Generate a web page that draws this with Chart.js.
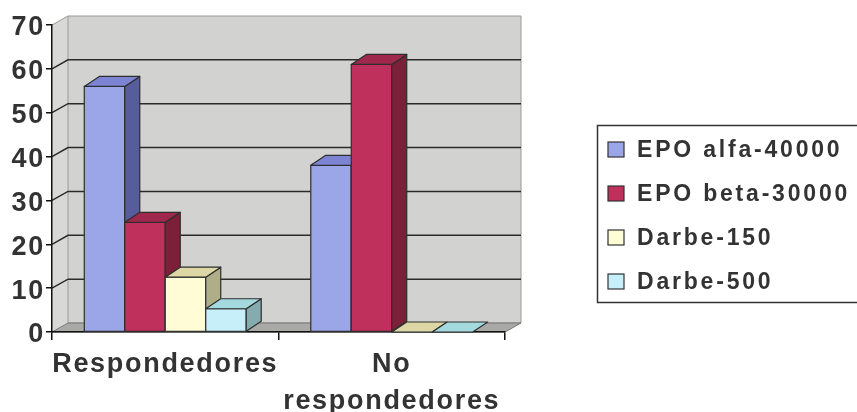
<!DOCTYPE html>
<html>
<head>
<meta charset="utf-8">
<script src="https://cdn.jsdelivr.net/npm/chart.js@4.4.1/dist/chart.umd.min.js"></script>
<style>
  html, body { margin: 0; padding: 0; background: #fff; }
  #chart { display: block; }
</style>
</head>
<body>
<canvas id="chart" width="857" height="412"></canvas>
<script>
const categories = ['Respondedores', ['No', 'respondedores']];
const seriesNames = ['EPO alfa-40000', 'EPO beta-30000', 'Darbe-150', 'Darbe-500'];
const epoAlfa = [56, 38];
const epoBeta = [25, 61];
const darbe150 = [12.5, 0];
const darbe500 = [5.3, 0];
const yMin = 0, yMax = 70, yStep = 10;

// front / top / side shading per series
const faces = [
  { front: '#9ba6e8', top: '#7c84d3', side: '#575c9c' },
  { front: '#c0305c', top: '#a0284c', side: '#7c1f38' },
  { front: '#fffcd6', top: '#ddd7a6', side: '#aeae88' },
  { front: '#c6eff9', top: '#a4d9de', side: '#84abad' }
];

const TEXT = '#333333';
const FONT = '"Liberation Sans", Arial, sans-serif';
const WALL_DX = 16, WALL_DY = -9;
const BAR_DX = 15, BAR_DY = -10;

function poly(ctx, pts, fill, stroke, lw) {
  ctx.beginPath();
  ctx.moveTo(pts[0][0], pts[0][1]);
  for (let i = 1; i < pts.length; i++) ctx.lineTo(pts[i][0], pts[i][1]);
  ctx.closePath();
  if (fill) { ctx.fillStyle = fill; ctx.fill(); }
  if (stroke) { ctx.strokeStyle = stroke; ctx.lineWidth = lw || 1; ctx.stroke(); }
}

const box3d = {
  id: 'box3d',
  beforeDraw(chart) {
    const { ctx, chartArea: a, scales: { y } } = chart;
    // axis labels are slightly tracked out
    ctx.letterSpacing = '1.7px';
    ctx.save();
    const L = a.left, R = a.right, T = a.top, B = a.bottom;
    // side wall, back wall and floor
    poly(ctx, [[L, T], [L + WALL_DX, T + WALL_DY], [L + WALL_DX, B + WALL_DY], [L, B]], '#d8d8d6');
    poly(ctx, [[L + WALL_DX, T + WALL_DY], [R + WALL_DX, T + WALL_DY], [R + WALL_DX, B + WALL_DY], [L + WALL_DX, B + WALL_DY]], '#d2d2d0', '#9a9a9a', 1);
    poly(ctx, [[L, B], [L + WALL_DX, B + WALL_DY], [R + WALL_DX, B + WALL_DY], [R, B]], '#a9a9a7', '#777', 1);
    ctx.strokeStyle = '#9a9a9a';
    ctx.lineWidth = 1;
    ctx.beginPath();
    ctx.moveTo(L, T); ctx.lineTo(L + WALL_DX, T + WALL_DY);
    ctx.stroke();
    // grid lines run across the side wall then the back wall
    ctx.strokeStyle = '#2b2b2b';
    ctx.lineWidth = 1.5;
    for (let v = yMin + yStep; v < yMax; v += yStep) {
      const py = y.getPixelForValue(v);
      ctx.beginPath();
      ctx.moveTo(L, py);
      ctx.lineTo(L + WALL_DX, py + WALL_DY);
      ctx.lineTo(R + WALL_DX, py + WALL_DY);
      ctx.stroke();
    }
    ctx.restore();
  },
  afterDatasetsDraw(chart) {
    const ctx = chart.ctx;
    ctx.save();
    ctx.lineJoin = 'round';
    chart.data.datasets.forEach((ds, i) => {
      const f = faces[i];
      chart.getDatasetMeta(i).data.forEach(bar => {
        const { x, y, base, width } = bar.getProps(['x', 'y', 'base', 'width'], true);
        const l = x - width / 2, r = x + width / 2;
        const ol = '#2e2e2e';
        if (base - y > 0.5) {
          poly(ctx, [[l, y], [r, y], [r, base], [l, base]], f.front, ol, 1.2);
          poly(ctx, [[r, y], [r + BAR_DX, y + BAR_DY], [r + BAR_DX, base + BAR_DY], [r, base]], f.side, ol, 1.2);
        }
        poly(ctx, [[l, y], [l + BAR_DX, y + BAR_DY], [r + BAR_DX, y + BAR_DY], [r, y]], f.top, ol, 1.2);
      });
    });
    ctx.restore();
  },
  afterDraw(chart) {
    const ctx = chart.ctx;
    ctx.save();
    ctx.letterSpacing = '2.8px';
    ctx.strokeStyle = '#333';
    ctx.lineWidth = 1.5;
    ctx.strokeRect(597.5, 125.5, 320, 177);
    ctx.font = 'bold 23px ' + FONT;
    ctx.textBaseline = 'middle';
    chart.data.datasets.forEach((ds, i) => {
      const cy = 150 + i * 44;
      ctx.fillStyle = faces[i].front;
      ctx.fillRect(608, cy - 8, 16, 15);
      ctx.strokeStyle = '#333';
      ctx.lineWidth = 1.2;
      ctx.strokeRect(608, cy - 8, 16, 15);
      ctx.fillStyle = TEXT;
      ctx.fillText(ds.label, 637, cy + 1);
    });
    ctx.restore();
  }
};

const series = [epoAlfa, epoBeta, darbe150, darbe500];

new Chart(document.getElementById('chart'), {
  type: 'bar',
  data: {
    labels: categories,
    datasets: series.map((vals, i) => ({
      label: seriesNames[i],
      data: vals,
      backgroundColor: 'rgba(0,0,0,0)',
      borderWidth: 0
    }))
  },
  options: {
    responsive: false,
    animation: false,
    events: [],
    layout: { padding: { top: 25, right: 352, left: 0, bottom: 0 } },
    datasets: { bar: { categoryPercentage: 0.715, barPercentage: 1.0 } },
    plugins: { legend: { display: false }, tooltip: { enabled: false } },
    scales: {
      x: {
        afterFit: s => { s.height = 80; },
        border: { display: true, color: '#111', width: 1.5 },
        grid: { display: true, drawOnChartArea: false, tickLength: 8, color: '#111', lineWidth: 1.5 },
        ticks: {
          color: TEXT,
          padding: 6,
          maxRotation: 0,
          font: { family: FONT, size: 27, weight: 'bold', lineHeight: 1.38 }
        }
      },
      y: {
        min: yMin,
        max: yMax,
        afterFit: s => { s.width = 52; },
        border: { display: true, color: '#111', width: 1.5 },
        grid: { display: true, drawOnChartArea: false, tickLength: 6, color: '#111', lineWidth: 1.5 },
        ticks: {
          stepSize: yStep,
          color: TEXT,
          padding: 1,
          labelOffset: 3,
          font: { family: FONT, size: 27, weight: 'bold' }
        }
      }
    }
  },
  plugins: [box3d]
});
</script>
</body>
</html>
